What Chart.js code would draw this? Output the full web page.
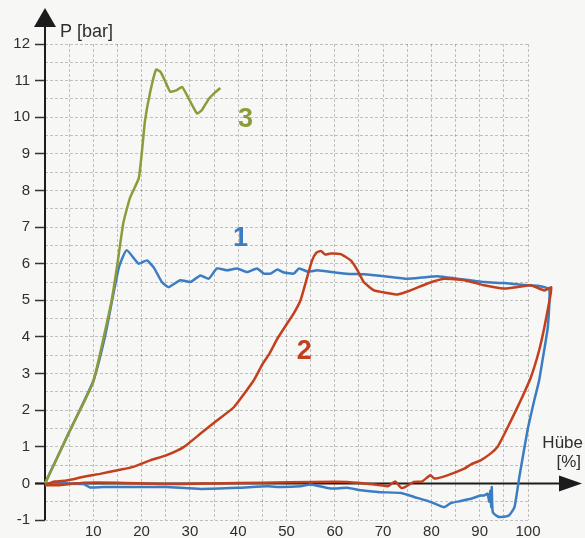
<!DOCTYPE html>
<html>
<head>
<meta charset="utf-8">
<script src="https://cdn.jsdelivr.net/npm/chart.js@4.4.0/dist/chart.umd.min.js"></script>
<style>
  html, body { margin: 0; padding: 0; background: #f7f7f5; }
  #wrap { width: 585px; height: 538px; }
</style>
</head>
<body>
<div id="wrap"><canvas id="chart"></canvas></div>
<script>
// tick labels
const xTickLabels = [10, 20, 30, 40, 50, 60, 70, 80, 90, 100];
const yTickLabels = [-1, 0, 1, 2, 3, 4, 5, 6, 7, 8, 9, 10, 11, 12];

// curve 1 (blue): rise, plateau, drop at the end, return under zero
const curve1X = [0, 5, 10, 12.4, 13.9, 15.3, 16.9, 19.4, 21.1, 22.5, 24.2, 25.6, 28, 30.1, 32.2, 33.9, 35.6, 37.7, 39.8, 41.8, 43.9, 45.3, 46.7, 48.1, 49.5, 51.5, 52.6, 54.5, 56.4, 60.5, 63, 66, 70.2, 75, 78, 81.3, 85.4, 90.9, 95.1, 99.9, 102, 104.4, 104.1, 103, 102.3, 101.3, 99.9, 98.2, 97.2, 96.1, 94.4, 93.7, 92.7, 92.5, 92.4, 92.2, 92.0, 91.6, 90.9, 90.2, 88.2, 86.1, 84, 82.6, 79.9, 76.4, 73.7, 69.5, 65.4, 62.6, 59.1, 55, 52.9, 48.8, 46, 40, 32.2, 25, 18.3, 12, 9.3, 8, 4, 0];
const curve1Y = [0, 1.4, 2.8, 4.0, 5.0, 5.9, 6.37, 6.0, 6.09, 5.9, 5.5, 5.36, 5.55, 5.5, 5.68, 5.59, 5.87, 5.82, 5.87, 5.77, 5.87, 5.73, 5.73, 5.84, 5.76, 5.73, 5.87, 5.78, 5.82, 5.75, 5.72, 5.71, 5.66, 5.59, 5.62, 5.66, 5.59, 5.5, 5.47, 5.41, 5.4, 5.3, 4.27, 3.36, 2.81, 2.27, 1.45, 0.17, -0.65, -0.87, -0.92, -0.9, -0.78, -0.1, -0.65, -0.2, -0.5, -0.28, -0.33, -0.33, -0.42, -0.48, -0.54, -0.65, -0.51, -0.37, -0.26, -0.24, -0.19, -0.12, -0.14, -0.03, -0.08, -0.1, -0.08, -0.12, -0.15, -0.1, -0.1, -0.1, -0.11, -0.02, 0, 0];

// curve 2 (red)
const curve2X = [0, 2, 4.5, 8, 11.4, 15, 18.3, 21.8, 25.2, 28.7, 32.2, 35.6, 39.1, 43.2, 45, 46.5, 48.1, 50.1, 51.5, 52.9, 54.3, 55.3, 56.2, 57.1, 58, 59.1, 61.2, 63.3, 64.7, 66, 68.1, 70.9, 73, 75.7, 79.2, 82.6, 86.8, 90.9, 95.1, 97.9, 100.6, 103.4, 104.8, 104.6, 103.4, 102.3, 100.6, 98.5, 96.5, 95, 93.7, 92.3, 90.2, 88.2, 86.8, 83.3, 80.6, 79.8, 78, 76.4, 74.5, 73.7, 72.5, 71, 69.5, 66, 62.6, 55.7, 45, 35, 25, 15, 8, 3, 0];
const curve2Y = [-0.05, 0.05, 0.08, 0.18, 0.26, 0.36, 0.45, 0.63, 0.77, 0.99, 1.36, 1.72, 2.08, 2.81, 3.25, 3.55, 3.95, 4.36, 4.64, 5.0, 5.64, 6.09, 6.3, 6.35, 6.25, 6.28, 6.26, 6.09, 5.82, 5.5, 5.27, 5.2, 5.16, 5.27, 5.46, 5.59, 5.55, 5.41, 5.32, 5.36, 5.41, 5.27, 5.36, 5.1, 4.27, 3.63, 2.9, 2.27, 1.72, 1.32, 1.0, 0.82, 0.63, 0.52, 0.4, 0.22, 0.13, 0.22, 0.05, 0.04, -0.1, -0.12, 0.05, -0.08, -0.05, 0, 0.04, 0.04, 0.02, 0, -0.02, 0.02, 0.02, -0.05, -0.05];

// curve 3 (green)
const curve3X = [0, 2, 5, 8, 10, 12, 13.8, 15, 16.2, 17.6, 19.4, 20.1, 20.7, 21.8, 23.0, 23.9, 25.0, 25.9, 27.3, 28.4, 30.1, 31.5, 32.5, 33.9, 35.0, 36.3];
const curve3Y = [0, 0.55, 1.4, 2.2, 2.77, 3.9, 5.0, 6.0, 7.1, 7.8, 8.33, 9.1, 9.9, 10.7, 11.3, 11.24, 10.95, 10.7, 10.74, 10.83, 10.42, 10.1, 10.2, 10.5, 10.65, 10.8];

const toPoints = (xs, ys) => xs.map((x, i) => ({ x: x, y: ys[i] }));

const BLUE = '#3b7cc2', RED = '#c2401d', GREEN = '#8d9b3b';

// axes with arrows, axis titles and curve numbers
const decoPlugin = {
  id: 'deco',
  beforeDraw(chart) {
    const c = chart.ctx;
    c.save();
    c.fillStyle = '#f7f7f5';
    c.fillRect(0, 0, chart.width, chart.height);
    c.restore();
  },
  beforeDatasetsDraw(chart) {
    const c = chart.ctx, a = chart.chartArea;
    const xs = chart.scales.x, ys = chart.scales.y;
    const x0 = xs.getPixelForValue(0), y0 = ys.getPixelForValue(0);
    c.save();
    c.strokeStyle = '#1c1c1c';
    c.fillStyle = '#1c1c1c';
    c.lineWidth = 2;
    c.beginPath();
    c.moveTo(x0, ys.getPixelForValue(-1));
    c.lineTo(x0, a.top - 18);
    c.moveTo(x0 - 10, y0);
    c.lineTo(a.right + 32, y0);
    c.stroke();
    c.beginPath();
    c.moveTo(x0, a.top - 36);
    c.lineTo(x0 - 11, a.top - 17);
    c.lineTo(x0 + 11, a.top - 17);
    c.closePath();
    c.fill();
    c.beginPath();
    c.moveTo(a.right + 54, y0);
    c.lineTo(a.right + 31, y0 - 8);
    c.lineTo(a.right + 31, y0 + 8);
    c.closePath();
    c.fill();
    c.restore();
  },
  afterDatasetsDraw(chart) {
    const c = chart.ctx, a = chart.chartArea;
    const xs = chart.scales.x, ys = chart.scales.y;
    const x0 = xs.getPixelForValue(0), y0 = ys.getPixelForValue(0);
    c.save();
    c.fillStyle = '#2e2e2e';
    c.font = '18px "Liberation Sans", Arial, sans-serif';
    c.textAlign = 'left';
    c.textBaseline = 'alphabetic';
    c.fillText('P [bar]', x0 + 15, a.top - 7);
    c.font = '17px "Liberation Sans", Arial, sans-serif';
    c.textAlign = 'right';
    c.fillText('Hübe', a.right + 55, y0 - 35);
    c.fillText('[%]', a.right + 53, y0 - 16);
    c.font = 'bold 27px "Liberation Sans", Arial, sans-serif';
    c.textAlign = 'center';
    c.textBaseline = 'middle';
    [['1', 40.5, 6.7, BLUE], ['2', 53.7, 3.6, RED], ['3', 41.5, 9.95, GREEN]].forEach(l => {
      c.fillStyle = l[3];
      c.fillText(l[0], xs.getPixelForValue(l[1]), ys.getPixelForValue(l[2]));
    });
    c.restore();
  }
};

const lineStyle = { borderWidth: 2.5, pointRadius: 0, tension: 0.15, fill: false, clip: false };

new Chart(document.getElementById('chart'), {
  type: 'line',
  data: {
    datasets: [
      Object.assign({ label: '2', data: toPoints(curve2X, curve2Y), borderColor: RED }, lineStyle),
      Object.assign({ label: '3', data: toPoints(curve3X, curve3Y), borderColor: GREEN }, lineStyle),
      Object.assign({ label: '1', data: toPoints(curve1X, curve1Y), borderColor: BLUE }, lineStyle)
    ]
  },
  options: {
    responsive: true,
    maintainAspectRatio: false,
    animation: false,
    layout: { padding: { top: 44, right: 57, left: 0, bottom: 0 } },
    plugins: { legend: { display: false }, tooltip: { enabled: false } },
    scales: {
      x: {
        type: 'linear', min: 0, max: 100,
        afterFit: s => { s.height = 18; },
        border: { display: false, dash: [3, 2] },
        grid: { color: 'rgba(0,0,0,0.22)', drawTicks: false, lineWidth: 1 },
        ticks: {
          stepSize: 5, autoSkip: false, maxRotation: 0, padding: 3,
          color: '#2e2e2e', font: { family: '"Liberation Sans", Arial, sans-serif', size: 15 },
          callback: v => xTickLabels.includes(v) ? String(v) : ''
        }
      },
      y: {
        type: 'linear', min: -1, max: 12,
        afterFit: s => { s.width = 45; },
        border: { display: false, dash: [3, 2] },
        grid: {
          color: 'rgba(0,0,0,0.22)', lineWidth: 1,
          tickLength: 10, tickWidth: 1.5, tickBorderDash: [],
          tickColor: ctx => Number.isInteger(ctx.tick.value) ? '#333' : 'rgba(0,0,0,0)'
        },
        ticks: {
          stepSize: 0.5, autoSkip: false, padding: 5,
          color: '#2e2e2e', font: { family: '"Liberation Sans", Arial, sans-serif', size: 15 },
          callback: v => yTickLabels.includes(v) ? String(v) : ''
        }
      }
    }
  },
  plugins: [decoPlugin]
});
</script>
</body>
</html>
